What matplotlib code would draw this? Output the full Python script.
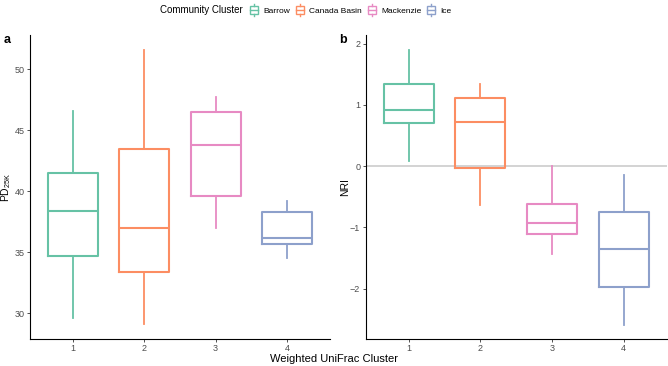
import matplotlib
matplotlib.use('Agg')
import matplotlib.pyplot as plt
from matplotlib.patches import Rectangle
from matplotlib.lines import Line2D
from matplotlib.legend_handler import HandlerBase

plt.rcParams['font.family'] = ['Liberation Sans', 'DejaVu Sans']

# Data: whisker low, q1, median, q3, whisker high
clusters = ['1', '2', '3', '4']
groups = ['Barrow', 'Canada Basin', 'Mackenzie', 'Ice']
colors = ['#66C2A5', '#FC8D62', '#E78AC3', '#8DA0CB']

pd_low = [29.6, 29.1, 37.0, 34.5]
pd_q1 = [34.7, 33.4, 39.6, 35.7]
pd_med = [38.4, 37.0, 43.8, 36.2]
pd_q3 = [41.5, 43.5, 46.5, 38.3]
pd_high = [46.6, 51.6, 47.7, 39.2]

nri_low = [0.08, -0.64, -1.44, -2.60]
nri_q1 = [0.70, -0.03, -1.11, -1.97]
nri_med = [0.91, 0.72, -0.92, -1.35]
nri_q3 = [1.35, 1.12, -0.62, -0.75]
nri_high = [1.89, 1.35, 0.0, -0.15]


def make_stats(low, q1, med, q3, high):
    return [dict(whislo=a, q1=b, med=c, q3=d, whishi=e, fliers=[])
            for a, b, c, d, e in zip(low, q1, med, q3, high)]


def draw_boxes(ax, stats):
    for i, (s, c) in enumerate(zip(stats, colors)):
        ax.bxp([s], positions=[i + 1], widths=0.7, showcaps=False,
               boxprops=dict(color=c, linewidth=1.5),
               medianprops=dict(color=c, linewidth=1.5),
               whiskerprops=dict(color=c, linewidth=1.3))
    ax.set_xlim(0.4, 4.6)
    ax.set_xticks([1, 2, 3, 4])
    ax.set_xticklabels(clusters)
    for sp in ['top', 'right']:
        ax.spines[sp].set_visible(False)
    for sp in ['left', 'bottom']:
        ax.spines[sp].set_linewidth(0.8)
    ax.tick_params(labelsize=6.5, length=2.5, width=0.6, pad=1.5,
                   colors='#333333', labelcolor='#4d4d4d')


fig = plt.figure(figsize=(6.68, 3.66), dpi=100)
ax1 = fig.add_axes([0.0449, 0.074, 0.4487, 0.830])
ax2 = fig.add_axes([0.5475, 0.074, 0.4506, 0.830])

draw_boxes(ax1, make_stats(pd_low, pd_q1, pd_med, pd_q3, pd_high))
ax1.set_ylim(27.9, 52.8)
ax1.set_yticks([30, 35, 40, 45, 50])
ax1.set_ylabel('PD$_{\\mathregular{25K}}$', fontsize=7.5)
ax1.yaxis.set_label_coords(-0.057, 0.5)

ax2.axhline(0, color='#cccccc', linewidth=1.2, zorder=0)
draw_boxes(ax2, make_stats(nri_low, nri_q1, nri_med, nri_q3, nri_high))
ax2.set_ylim(-2.82, 2.14)
ax2.set_yticks([-2, -1, 0, 1, 2])
ax2.set_yticklabels(['\u22122', '\u22121', '0', '1', '2'])
ax2.set_ylabel('NRI', fontsize=7.5)
ax2.yaxis.set_label_coords(-0.052, 0.5)

fig.text(0.006, 0.882, 'a', fontsize=9, fontweight='bold')
fig.text(0.507, 0.882, 'b', fontsize=9, fontweight='bold')
fig.text(0.5, 0.02, 'Weighted UniFrac Cluster', fontsize=8, ha='center', va='center')


class BoxHandler(HandlerBase):
    def create_artists(self, legend, orig_handle, xd, yd, width, height, fontsize, trans):
        c = orig_handle.get_color()
        cx = width / 2 - xd
        bw = width * 0.8
        r = Rectangle((cx - bw / 2, -yd + height * 0.2), bw, height * 0.6,
                      fill=False, edgecolor=c, linewidth=1.0, transform=trans)
        m = Line2D([cx - bw / 2, cx + bw / 2], [-yd + height / 2] * 2, color=c, lw=1.0, transform=trans)
        w1 = Line2D([cx, cx], [-yd, -yd + height * 0.2], color=c, lw=1.0, transform=trans)
        w2 = Line2D([cx, cx], [-yd + height * 0.8, -yd + height], color=c, lw=1.0, transform=trans)
        return [r, m, w1, w2]


fig.text(160 / 668, 1 - 10 / 366, 'Community Cluster', fontsize=7, ha='left', va='center')
handles = [Line2D([], [], color=c) for c in colors]
fig.legend(handles, groups, loc='center left', bbox_to_anchor=(249 / 668, 1 - 10 / 366), ncol=4,
           frameon=False, fontsize=6,
           handler_map={Line2D: BoxHandler()}, handlelength=1.2, handleheight=2.0,
           handletextpad=0.5, columnspacing=0.6, borderpad=0, borderaxespad=0)

fig.savefig('out.png', dpi=100)
